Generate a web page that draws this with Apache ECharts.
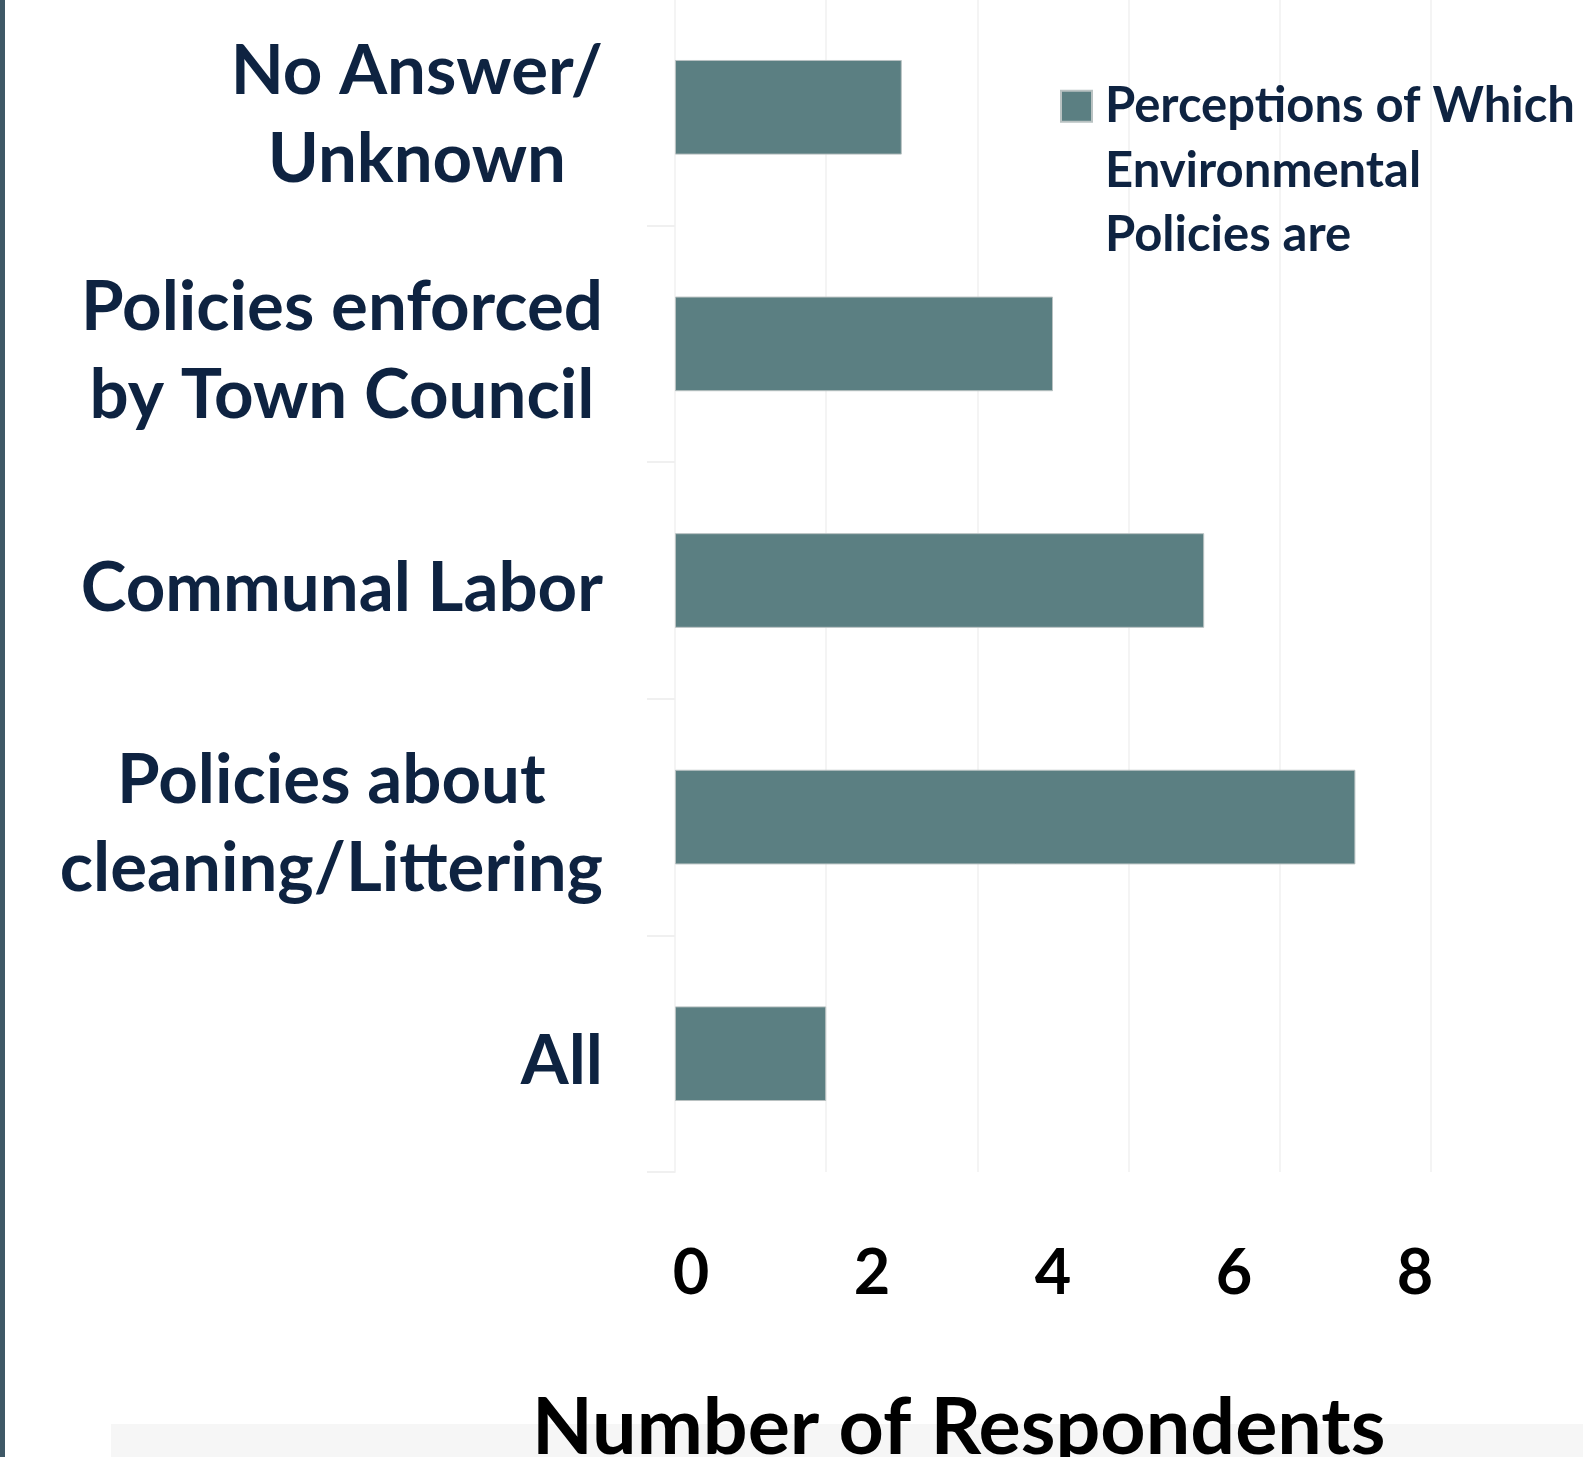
<!DOCTYPE html>
<html>
<head>
<meta charset="utf-8">
<script src="https://cdn.jsdelivr.net/npm/echarts@6/dist/echarts.min.js"></script>
<style>
    html, body { margin: 0; padding: 0; background: #fff; }
    #chart { width: 1583px; height: 1457px; }
</style>
</head>
<body>
<div id="chart"></div>
<script>
// categories, top to bottom
const categories = [
    'No Answer/\nUnknown',
    'Policies enforced\nby Town Council',
    'Communal Labor',
    'Policies about\ncleaning/Littering',
    'All'
];
const respondents = [3, 5, 7, 9, 2];
const tickLabels = [0, 2, 4, 6, 8];
const seriesName = 'Perceptions of Which Environmental Policies are';
const legendLines = ['Perceptions of Which', 'Environmental', 'Policies are'];
const axisTitle = 'Number of Respondents';

const font = 'Lato, "Open Sans", sans-serif';
const navy = '#0e2341';
const barColor = '#5b7f82';

const chart = echarts.init(document.getElementById('chart'));

const option = {
    animation: false,
    backgroundColor: '#fff',
    graphic: [
        // thin dark strip on the left edge and grey band at the bottom
        { type: 'rect', shape: { x: 0, y: 0, width: 5, height: 1457 }, style: { fill: '#3e5866' }, z: 0 },
        { type: 'rect', shape: { x: 111, y: 1424, width: 1472, height: 33 }, style: { fill: '#f6f6f6' }, z: 0 }
    ],
    title: {
        text: axisTitle,
        left: 532,
        top: 1381,
        padding: 0,
        textStyle: {
            fontFamily: font,
            fontSize: 79,
            fontWeight: 'bold',
            color: '#000',
            lineHeight: 96
        }
    },
    legend: {
        left: 1060,
        top: -55,
        padding: 0,
        icon: 'rect',
        itemWidth: 31,
        itemHeight: 31,
        data: [seriesName],
        // two empty lines first so the icon sits next to the first line
        formatter: () => '\n\n' + legendLines.join('\n'),
        textStyle: {
            fontFamily: font,
            fontSize: 49,
            fontWeight: 'bold',
            color: navy,
            lineHeight: 64.5,
            padding: [0, 0, 0, 8]
        }
    },
    grid: [
        { left: 675, right: 152, top: -11, bottom: 285, outerBoundsMode: 'none' },
        { left: 691, right: 168, top: 1200, height: 10, outerBoundsMode: 'none' }
    ],
    xAxis: [
        {
            type: 'value',
            gridIndex: 0,
            min: 0,
            max: 10,
            interval: 2,
            axisLine: { show: false },
            axisTick: { show: false },
            axisLabel: { show: false },
            splitLine: { lineStyle: { color: '#f4f4f4', width: 2 } }
        },
        {
            type: 'value',
            gridIndex: 1,
            min: tickLabels[0],
            max: tickLabels[tickLabels.length - 1],
            interval: 2,
            axisLine: { show: false },
            axisTick: { show: false },
            splitLine: { show: false },
            axisLabel: {
                margin: 64,
                verticalAlign: 'middle',
                fontFamily: font,
                fontSize: 63,
                fontWeight: 'bold',
                color: '#000'
            }
        }
    ],
    yAxis: [
        {
            type: 'category',
            gridIndex: 0,
            inverse: true,
            data: categories,
            axisLine: { show: true, lineStyle: { color: '#f4f4f4', width: 2 } },
            axisTick: { show: true, length: 28, lineStyle: { color: '#f0f0f0', width: 2 } },
            axisLabel: {
                margin: 72,
                padding: [16, 0, 0, 0],
                formatter: (v) => v.split('\n').map(l => '{c|' + l + '}').join('\n'),
                rich: {
                    c: {
                        align: 'center',
                        fontFamily: font,
                        fontSize: 69,
                        fontWeight: 'bold',
                        color: navy,
                        lineHeight: 88
                    }
                }
            }
        },
        { type: 'value', gridIndex: 1, show: false }
    ],
    series: [
        {
            name: seriesName,
            type: 'bar',
            xAxisIndex: 0,
            yAxisIndex: 0,
            data: respondents,
            barCategoryGap: '60%',
            itemStyle: {
                color: barColor,
                borderColor: '#b9c2c2',
                borderWidth: 1
            }
        }
    ]
};

chart.setOption(option);
</script>
</body>
</html>
